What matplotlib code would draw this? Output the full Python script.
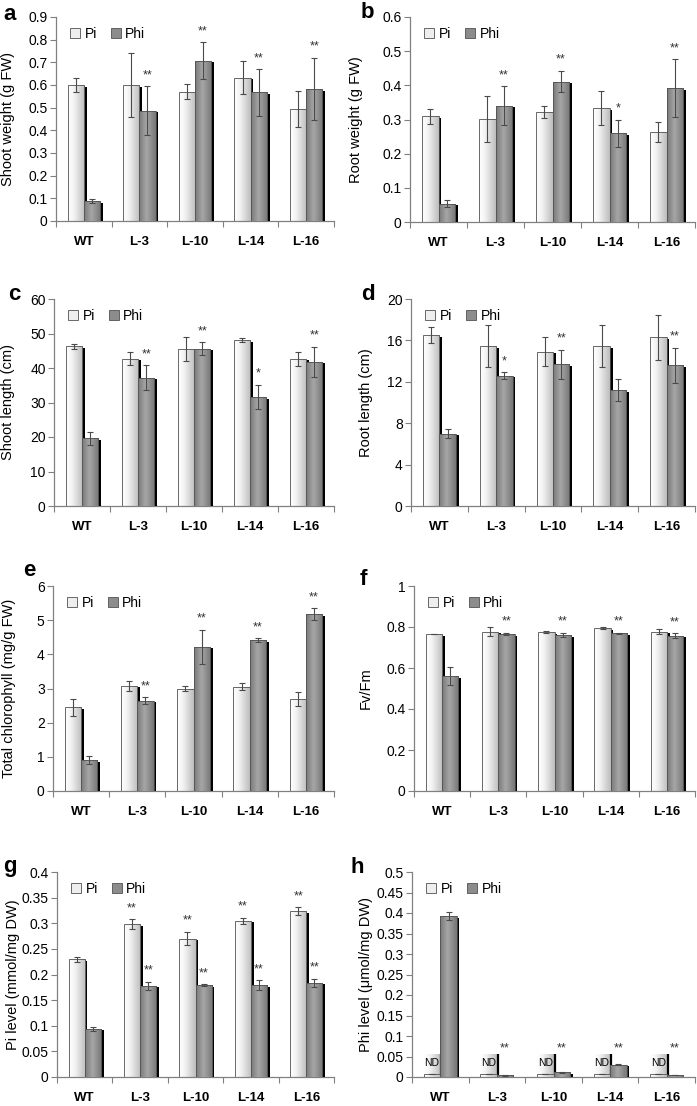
import numpy as np
import matplotlib.pyplot as plt
from matplotlib.colors import LinearSegmentedColormap
from matplotlib.patches import Patch
from matplotlib.ticker import FuncFormatter
from matplotlib.transforms import ScaledTranslation

plt.rcParams['font.family'] = ['Liberation Sans', 'DejaVu Sans']

lines = ["WT", "L-3", "L-10", "L-14", "L-16"]

# a - shoot weight
shoot_w_pi = [0.60, 0.60, 0.57, 0.633, 0.495]
shoot_w_pi_err = [0.033, 0.14, 0.033, 0.074, 0.079]
shoot_w_phi = [0.088, 0.487, 0.707, 0.567, 0.583]
shoot_w_phi_err = [0.01, 0.107, 0.082, 0.103, 0.136]
shoot_w_sig = ["", "**", "**", "**", "**"]

# b - root weight
root_w_pi = [0.309, 0.302, 0.322, 0.333, 0.263]
root_w_pi_err = [0.022, 0.067, 0.018, 0.049, 0.03]
root_w_phi = [0.054, 0.34, 0.411, 0.26, 0.391]
root_w_phi_err = [0.01, 0.057, 0.031, 0.04, 0.085]
root_w_sig = ["", "**", "**", "*", "**"]

# c - shoot length
shoot_l_pi = [46.3, 42.7, 45.6, 48.0, 42.7]
shoot_l_pi_err = [0.8, 1.9, 3.5, 0.6, 2.0]
shoot_l_phi = [19.6, 37.2, 45.6, 31.6, 41.8]
shoot_l_phi_err = [1.9, 3.6, 1.9, 3.6, 4.4]
shoot_l_sig = ["", "**", "**", "*", "**"]

# d - root length
root_l_pi = [16.5, 15.45, 14.9, 15.45, 16.3]
root_l_pi_err = [0.75, 2.0, 1.4, 2.0, 2.2]
root_l_phi = [7.0, 12.6, 13.7, 11.2, 13.6]
root_l_phi_err = [0.45, 0.3, 1.4, 1.1, 1.7]
root_l_sig = ["", "*", "**", "", "**"]

# e - total chlorophyll
chl_pi = [2.45, 3.08, 3.0, 3.05, 2.70]
chl_pi_err = [0.25, 0.14, 0.06, 0.1, 0.2]
chl_phi = [0.91, 2.64, 4.22, 4.41, 5.18]
chl_phi_err = [0.12, 0.1, 0.5, 0.06, 0.17]
chl_sig = ["", "**", "**", "**", "**"]

# f - Fv/Fm
fvfm_pi = [0.766, 0.777, 0.776, 0.795, 0.777]
fvfm_pi_err = [0.0, 0.023, 0.003, 0.007, 0.013]
fvfm_phi = [0.561, 0.766, 0.761, 0.769, 0.757]
fvfm_phi_err = [0.042, 0.006, 0.01, 0.003, 0.013]
fvfm_sig = ["", "**", "**", "**", "**"]

# g - Pi level
pilev_pi = [0.230, 0.298, 0.270, 0.305, 0.324]
pilev_pi_err = [0.005, 0.01, 0.013, 0.006, 0.007]
pilev_phi = [0.094, 0.178, 0.179, 0.179, 0.184]
pilev_phi_err = [0.004, 0.008, 0.002, 0.01, 0.008]
pilev_pi_sig = ["", "**", "**", "**", "**"]
pilev_sig = ["", "**", "**", "**", "**"]

# h - Phi level (Pi bars not detected)
philev_pi = [0.008, 0.008, 0.008, 0.008, 0.008]
philev_pi_err = [0, 0, 0, 0, 0]
philev_phi = [0.392, 0.004, 0.011, 0.030, 0.005]
philev_phi_err = [0.01, 0.001, 0.001, 0.001, 0.001]
philev_sig = ["", "**", "**", "**", "**"]
philev_nd = ["ND", "ND", "ND", "ND", "ND"]

W, H = 697, 1106
fig = plt.figure(figsize=(W / 100, H / 100), dpi=100)

pi_cmap = LinearSegmentedColormap.from_list(
    "pi", [(0, "#ffffff"), (0.35, "#f3f3f3"), (1, "#bdbdbd")])
phi_cmap = LinearSegmentedColormap.from_list(
    "phi", [(0, "#7a7a7a"), (0.45, "#a6a6a6"), (1, "#777777")])
grad = np.linspace(0, 1, 64).reshape(1, -1)
shadow = ScaledTranslation(2.0 / 72, -1.2 / 72, fig.dpi_scale_trans)


def gradient_bars(ax, xpos, vals, w, cmap, z):
    ax.bar(xpos, vals, w, color="black", transform=ax.transData + shadow,
           zorder=z)
    bars = ax.bar(xpos, vals, w, facecolor="none", edgecolor="#505050",
                  lw=0.6, zorder=z + 0.2)
    for b in bars:
        im = ax.imshow(grad, cmap=cmap, aspect="auto", zorder=z + 0.1,
                       extent=[b.get_x(), b.get_x() + w, 0, b.get_height()])
        im.set_clip_path(b)


def panel(box, letter, letter_xy, ylabel, ymax, step, pi, pi_err, phi, phi_err,
          sig, pi_sig=None, nd=None, label_px=40):
    left, top, right, bottom = box
    ax = fig.add_axes([left / W, 1 - bottom / H, (right - left) / W,
                       (bottom - top) / H])
    x = np.arange(len(lines)) + 0.5
    w = 0.29
    xp, xf = x - w / 2, x + w / 2

    if nd is not None:
        for xi, t in zip(xp, nd):
            ax.imshow(grad, cmap=pi_cmap, aspect="auto", zorder=1.5,
                      extent=[xi - w / 2, xi + w / 2, 0, 0.055])
            ax.vlines(xi + w / 2 + 0.02, 0, 0.055, color="black", lw=1.6,
                      zorder=1.6)
            ax.text(xi, 0.033, t, ha="center", va="center", fontsize=7.5,
                    zorder=7)

    gradient_bars(ax, xp, pi, w, pi_cmap, 2)
    gradient_bars(ax, xf, phi, w, phi_cmap, 3)
    ax.errorbar(xp, pi, yerr=pi_err, fmt="none", ecolor="#4a4a4a",
                elinewidth=0.8, capsize=2.5, capthick=0.8, zorder=6)
    ax.errorbar(xf, phi, yerr=phi_err, fmt="none", ecolor="#4a4a4a",
                elinewidth=0.8, capsize=2.5, capthick=0.8, zorder=6)

    off = 0.025 * ymax
    for xi, v, e, s in zip(xf, phi, phi_err, sig):
        base = v + e
        if nd is not None:
            base = max(base, 0.042)
        ax.text(xi, base + off, s, ha="center", va="bottom", fontsize=9,
                color="#333333", zorder=7)
    if pi_sig is not None:
        for xi, v, e, s in zip(xp, pi, pi_err, pi_sig):
            ax.text(xi, v + e + off, s, ha="center", va="bottom", fontsize=9,
                    color="#333333", zorder=7)

    ax.set_xlim(0, len(lines))
    ax.set_ylim(0, ymax)
    ax.set_yticks(np.arange(0, ymax + step / 2, step))
    ax.yaxis.set_major_formatter(FuncFormatter(lambda v, p: "%g" % round(v, 3)))
    ax.set_xticks(np.arange(len(lines) + 1))
    ax.set_xticklabels([])
    ax.set_xticks(x, lines, minor=True)
    for s in ["top", "right"]:
        ax.spines[s].set_visible(False)
    for s in ["left", "bottom"]:
        ax.spines[s].set_color("#808080")
        ax.spines[s].set_linewidth(0.9)
    ax.tick_params(axis="x", which="minor", length=0, pad=11, labelsize=9.5)
    for t in ax.get_xticklabels(minor=True):
        t.set_fontweight("bold")
    ax.tick_params(axis="x", which="major", length=4, color="#808080")
    ax.tick_params(axis="y", length=4, color="#808080", labelsize=10, pad=2)

    ax.set_ylabel(ylabel, fontsize=10.5)
    ax.yaxis.set_label_coords(-label_px / (right - left), 0.5)

    handles = [Patch(facecolor="#eeeeee", edgecolor="#505050", lw=0.6, label="Pi"),
               Patch(facecolor="#8c8c8c", edgecolor="#505050", lw=0.6, label="Phi")]
    ax.legend(handles=handles, loc="upper left", bbox_to_anchor=(0.015, 1.0),
              ncol=2, frameon=False, handlelength=0.75, handleheight=0.75,
              handletextpad=0.3, columnspacing=1.0, fontsize=10,
              borderaxespad=0.3)

    fig.text(letter_xy[0] / W, 1 - letter_xy[1] / H, letter, fontsize=16,
             fontweight="bold", va="baseline", ha="left")
    return ax


panel((56, 17, 334, 221), "a", (3, 20), "Shoot weight (g FW)", 0.9, 0.1,
      shoot_w_pi, shoot_w_pi_err, shoot_w_phi, shoot_w_phi_err, shoot_w_sig,
      label_px=41)
panel((410, 17, 695, 222), "b", (361, 18), "Root weight (g FW)", 0.6, 0.1,
      root_w_pi, root_w_pi_err, root_w_phi, root_w_phi_err, root_w_sig,
      label_px=47)
panel((54, 299, 334, 506), "c", (8, 300), "Shoot length (cm)", 60, 10,
      shoot_l_pi, shoot_l_pi_err, shoot_l_phi, shoot_l_phi_err, shoot_l_sig,
      label_px=39)
panel((411, 299, 695, 506), "d", (361, 300), "Root length (cm)", 20, 4,
      root_l_pi, root_l_pi_err, root_l_phi, root_l_phi_err, root_l_sig,
      label_px=38)
panel((53, 586, 334, 791), "e", (23, 576), "Total chlorophyll (mg/g FW)", 6, 1,
      chl_pi, chl_pi_err, chl_phi, chl_phi_err, chl_sig, label_px=37)
panel((414, 586, 695, 791), "f", (360, 585), "Fv/Fm", 1, 0.2,
      fvfm_pi, fvfm_pi_err, fvfm_phi, fvfm_phi_err, fvfm_sig, label_px=41)
panel((57, 872, 334, 1077), "g", (3, 872), "Pi level (mmol/mg DW)", 0.4, 0.05,
      pilev_pi, pilev_pi_err, pilev_phi, pilev_phi_err, pilev_sig,
      pi_sig=pilev_pi_sig, label_px=37)
panel((412, 872, 695, 1077), "h", (351, 873), "Phi level (\u03bcmol/mg DW)", 0.5,
      0.05, philev_pi, philev_pi_err, philev_phi, philev_phi_err, philev_sig,
      nd=philev_nd, label_px=39)

fig.savefig("out.png", dpi=100)
